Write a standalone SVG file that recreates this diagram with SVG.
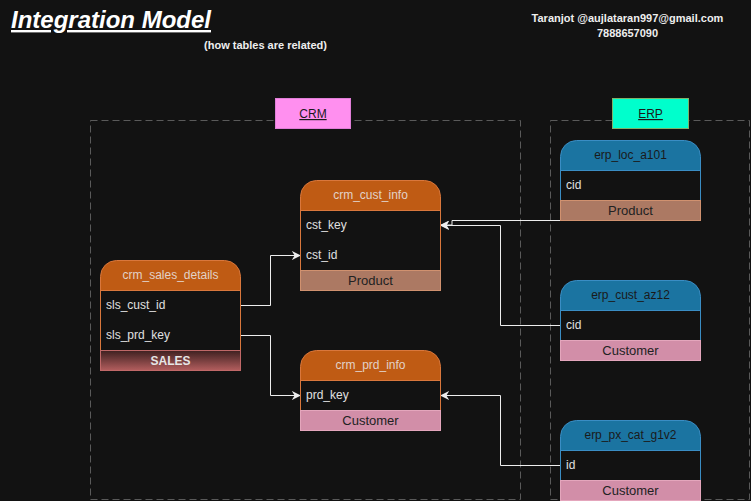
<svg xmlns="http://www.w3.org/2000/svg" width="751" height="501" viewBox="0 0 751 501">
<defs>
<style>
text{font-family:"Liberation Sans",Arial,sans-serif}
.hdrO{fill:#BF5B14;stroke:#D9773C;stroke-width:1}
.hdrB{fill:#1B74A1;stroke:#3A8DC4;stroke-width:1}
.bodyO{fill:#121212;stroke:#D9773C;stroke-width:1}
.bodyB{fill:#121212;stroke:#3A8DC4;stroke-width:1}
.fProd{fill:#AC7963;stroke:#D0916F;stroke-width:1}
.fCust{fill:#D28EA8;stroke:#E4A6BC;stroke-width:1}
.tO{fill:#E2D2C8;font-size:12px;text-anchor:middle}
.tB{fill:#1A1A1A;font-size:12px;text-anchor:middle}
.row{fill:#E0E0E0;font-size:12px}
.foot{fill:#222222;font-size:13px;text-anchor:middle}
.zone{fill:none;stroke:#5A5A5A;stroke-width:1;stroke-dasharray:7 4}
.edge{fill:none;stroke:#EDEDED;stroke-width:1}
</style>
<linearGradient id="salesGrad" x1="0" y1="0" x2="0" y2="1">
<stop offset="0" stop-color="#3E2020"/>
<stop offset="1" stop-color="#B35E5E"/>
</linearGradient>
<marker id="arr" viewBox="0 0 10 10" refX="9" refY="5" markerWidth="9" markerHeight="9" markerUnits="userSpaceOnUse" orient="auto">
<path d="M0,0 L10,5 L0,10 L3,5 Z" fill="#EDEDED"/>
</marker>
</defs>
<rect x="0" y="0" width="751" height="501" fill="#121212"/>

<g id="title">
<text x="11" y="28" font-size="24" font-weight="bold" font-style="italic" fill="#FFFFFF" text-decoration="underline">Integration Model</text>
<text x="265.5" y="49" font-size="11" font-weight="bold" fill="#EEEEEE" text-anchor="middle">(how tables are related)</text>
</g>
<g id="author">
<text x="627.5" y="22" font-size="11" font-weight="bold" fill="#EEEEEE" text-anchor="middle">Taranjot @aujlataran997@gmail.com</text>
<text x="627.5" y="37" font-size="11" font-weight="bold" fill="#EEEEEE" text-anchor="middle">7888657090</text>
</g>

<g id="zones">
<rect class="zone" x="90.5" y="120.5" width="430" height="379"/>
<rect class="zone" x="550.5" y="120.5" width="199" height="379"/>
</g>

<g id="label-crm">
<rect x="275.5" y="98.5" width="75" height="30" fill="#FF8FEF" stroke="#E07ED8"/>
<text x="313" y="118" font-size="12" fill="#1A1A1A" text-anchor="middle" text-decoration="underline">CRM</text>
</g>
<g id="label-erp">
<rect x="612.5" y="98.5" width="76" height="30" fill="#00FFCC" stroke="#7DB36A"/>
<text x="650.5" y="118" font-size="12" fill="#1A1A1A" text-anchor="middle" text-decoration="underline">ERP</text>
</g>

<g id="connectors">
<path class="edge" d="M240.5,305.5 H270.5 V255.5 H300" marker-end="url(#arr)"/>
<path class="edge" d="M240.5,335.5 H270.5 V395.5 H300" marker-end="url(#arr)"/>
<path class="edge" d="M560.5,465.5 H500.5 V395.5 H441" marker-end="url(#arr)"/>
<path class="edge" d="M560.5,220.5 H452 V225 H441" marker-end="url(#arr)"/>
<path class="edge" d="M560.5,325.5 H500.5 V225.5 H441" marker-end="url(#arr)"/>
</g>

<g id="crm_sales_details">
<path class="hdrO" d="M100.5,290.5 V276.5 A16,16 0 0 1 116.5,260.5 H224.5 A16,16 0 0 1 240.5,276.5 V290.5 Z"/>
<rect class="bodyO" x="100.5" y="290.5" width="140" height="60"/>
<rect x="100.5" y="350.5" width="140" height="20" fill="url(#salesGrad)" stroke="#C06868"/>
<text class="tO" x="170.5" y="279">crm_sales_details</text>
<text class="row" x="106" y="309">sls_cust_id</text>
<text class="row" x="106" y="339">sls_prd_key</text>
<text x="170.5" y="364.5" font-size="12" font-weight="bold" fill="#E6E6E6" text-anchor="middle">SALES</text>
</g>

<g id="crm_cust_info">
<path class="hdrO" d="M300.5,210.5 V196.5 A16,16 0 0 1 316.5,180.5 H424.5 A16,16 0 0 1 440.5,196.5 V210.5 Z"/>
<rect class="bodyO" x="300.5" y="210.5" width="140" height="60"/>
<rect class="fProd" x="300.5" y="270.5" width="140" height="20"/>
<text class="tO" x="370.5" y="199">crm_cust_info</text>
<text class="row" x="306" y="229">cst_key</text>
<text class="row" x="306" y="259">cst_id</text>
<text class="foot" x="370.5" y="285">Product</text>
</g>

<g id="crm_prd_info">
<path class="hdrO" d="M300.5,380.5 V366.5 A16,16 0 0 1 316.5,350.5 H424.5 A16,16 0 0 1 440.5,366.5 V380.5 Z"/>
<rect class="bodyO" x="300.5" y="380.5" width="140" height="30"/>
<rect class="fCust" x="300.5" y="410.5" width="140" height="20"/>
<text class="tO" x="370.5" y="369">crm_prd_info</text>
<text class="row" x="306" y="399">prd_key</text>
<text class="foot" x="370.5" y="425">Customer</text>
</g>

<g id="erp_loc_a101">
<path class="hdrB" d="M560.5,170.5 V156.5 A16,16 0 0 1 576.5,140.5 H684.5 A16,16 0 0 1 700.5,156.5 V170.5 Z"/>
<rect class="bodyB" x="560.5" y="170.5" width="140" height="30"/>
<rect class="fProd" x="560.5" y="200.5" width="140" height="20"/>
<text class="tB" x="630.5" y="159">erp_loc_a101</text>
<text class="row" x="566" y="189">cid</text>
<text class="foot" x="630.5" y="215">Product</text>
</g>

<g id="erp_cust_az12">
<path class="hdrB" d="M560.5,310.5 V296.5 A16,16 0 0 1 576.5,280.5 H684.5 A16,16 0 0 1 700.5,296.5 V310.5 Z"/>
<rect class="bodyB" x="560.5" y="310.5" width="140" height="30"/>
<rect class="fCust" x="560.5" y="340.5" width="140" height="20"/>
<text class="tB" x="630.5" y="299">erp_cust_az12</text>
<text class="row" x="566" y="329">cid</text>
<text class="foot" x="630.5" y="355">Customer</text>
</g>

<g id="erp_px_cat_g1v2">
<path class="hdrB" d="M560.5,450.5 V436.5 A16,16 0 0 1 576.5,420.5 H684.5 A16,16 0 0 1 700.5,436.5 V450.5 Z"/>
<rect class="bodyB" x="560.5" y="450.5" width="140" height="30"/>
<rect class="fCust" x="560.5" y="480.5" width="140" height="20"/>
<text class="tB" x="630.5" y="439">erp_px_cat_g1v2</text>
<text class="row" x="566" y="469">id</text>
<text class="foot" x="630.5" y="495">Customer</text>
</g>
</svg>
